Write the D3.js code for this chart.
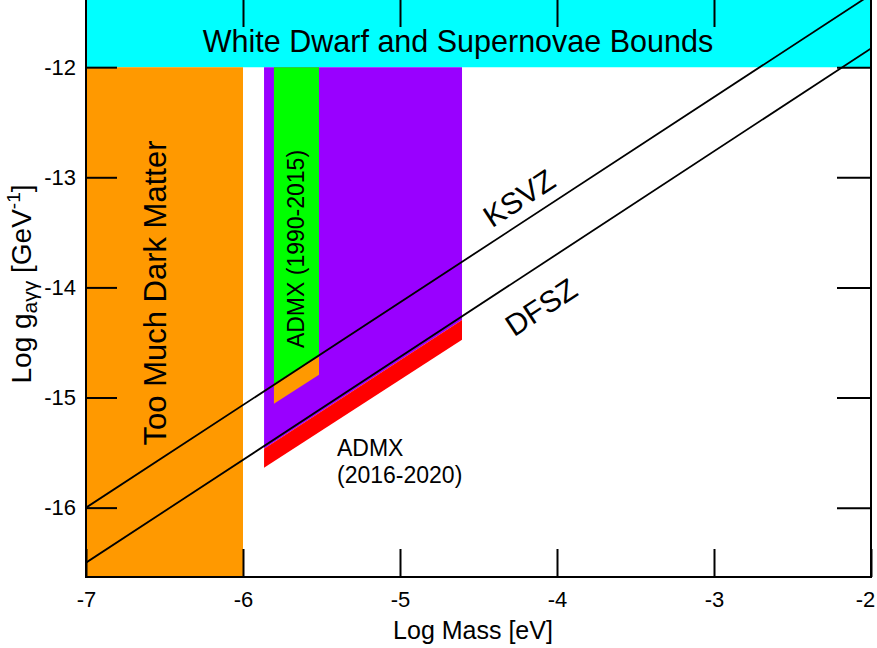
<!DOCTYPE html>
<html>
<head>
<meta charset="utf-8">
<script src="https://cdn.jsdelivr.net/npm/d3@7"></script>
<style>
  body { margin: 0; background: #fff; }
  svg { display: block; }
  text { font-family: "Liberation Sans", Arial, Helvetica, sans-serif; fill: #000; }
</style>
</head>
<body>
<svg id="chart" width="877" height="648"></svg>
<script>
// Axion parameter space: log mass [eV] vs log photon coupling [GeV^-1]
const massTicks = [-7, -6, -5, -4, -3, -2];
const couplingTicks = [-12, -13, -14, -15, -16];
const massDomain = [-7, -2];
const couplingDomain = [-16.63, -11.39];

// benchmark model lines (endpoints in log mass, log coupling)
const ksvzLine = [[-7, -16.0], [-2, -11.34]];
const dfszLine = [[-7, -16.5], [-2, -11.83]];

// excluded / probed regions
const stellarBound = -12;            // white dwarf & supernova limit
const darkMatterMassLimit = -6;      // lighter axions overproduce dark matter
const admxMass = [-5.866, -4.605];   // ADMX 2016-2020 mass range
const admxReach = [-15.465, -14.295];     // purple lower edge at range ends
const admxNewReach = [-15.637, -14.476];  // red lower edge at range ends
const admxOldMass = [-5.803, -5.516];     // ADMX 1990-2015 mass range
const admxOldReach = [-14.875, -14.630];  // green lower edge
const admxOldExtra = [-15.057, -14.794];  // orange lower edge

const W = 877, H = 648;
const plot = { left: 86, right: 871, top: 0, bottom: 577 };

const x = d3.scaleLinear().domain(massDomain).range([plot.left, plot.right]);
const y = d3.scaleLinear().domain(couplingDomain).range([plot.bottom, plot.top]);

const svg = d3.select("#chart");

svg.append("defs").append("clipPath").attr("id", "plotClip")
  .append("rect")
  .attr("x", plot.left).attr("y", plot.top)
  .attr("width", plot.right - plot.left).attr("height", plot.bottom - plot.top);

const area = svg.append("g").attr("clip-path", "url(#plotClip)");
const poly = pts => "M" + pts.map(p => [x(p[0]), y(p[1])].join(",")).join("L") + "Z";

const [mLo, mHi] = massDomain;
const [gLo, gHi] = couplingDomain;

// stellar bounds band
area.append("path").attr("fill", "#00FFFF")
  .attr("d", poly([[mLo, gHi], [mHi, gHi], [mHi, stellarBound], [mLo, stellarBound]]));

// too much dark matter
area.append("path").attr("fill", "#FF9900")
  .attr("d", poly([[mLo, stellarBound], [darkMatterMassLimit, stellarBound], [darkMatterMassLimit, gLo], [mLo, gLo]]));

// ADMX 2016-2020 (purple) with improved reach (red)
area.append("path").attr("fill", "#9900FF")
  .attr("d", poly([[admxMass[0], stellarBound], [admxMass[1], stellarBound],
                   [admxMass[1], admxReach[1]], [admxMass[0], admxReach[0]]]));
area.append("path").attr("fill", "#FF0000")
  .attr("d", poly([[admxMass[0], admxReach[0]], [admxMass[1], admxReach[1]],
                   [admxMass[1], admxNewReach[1]], [admxMass[0], admxNewReach[0]]]));

// ADMX 1990-2015 (green) and its extended reach (orange)
area.append("path").attr("fill", "#00FF00")
  .attr("d", poly([[admxOldMass[0], stellarBound], [admxOldMass[1], stellarBound],
                   [admxOldMass[1], admxOldReach[1]], [admxOldMass[0], admxOldReach[0]]]));
area.append("path").attr("fill", "#FF9900")
  .attr("d", poly([[admxOldMass[0], admxOldReach[0]], [admxOldMass[1], admxOldReach[1]],
                   [admxOldMass[1], admxOldExtra[1]], [admxOldMass[0], admxOldExtra[0]]]));

// model lines
const line = d3.line().x(d => x(d[0])).y(d => y(d[1]));
[ksvzLine, dfszLine].forEach(l => {
  area.append("path").datum(l).attr("d", line)
    .attr("fill", "none").attr("stroke", "#000").attr("stroke-width", 1.8);
});

// axes: inward ticks on all four sides
const fmt = d => String(d);
const styleAxis = g => {
  g.select(".domain").remove();
  g.selectAll(".tick line").attr("stroke", "#000").attr("stroke-width", 2);
  g.selectAll(".tick text").attr("font-size", 22).attr("fill", "#000")
    .attr("font-family", "Liberation Sans, Arial, sans-serif");
};

const xAxisG = svg.append("g").attr("transform", `translate(0,${plot.bottom})`)
  .call(d3.axisBottom(x).tickValues(massTicks).tickFormat(fmt)
        .tickSizeInner(-28).tickSizeOuter(0).tickPadding(14))
  .call(styleAxis);
// keep the last label inside the canvas
xAxisG.selectAll(".tick text").filter(d => d === mHi).attr("dx", -6);

svg.append("g").attr("transform", `translate(0,${plot.top})`)
  .call(d3.axisTop(x).tickValues(massTicks.slice(1, -1)).tickFormat("")
        .tickSizeInner(-27).tickSizeOuter(0))
  .call(styleAxis);

svg.append("g").attr("transform", `translate(${plot.left},0)`)
  .call(d3.axisLeft(y).tickValues(couplingTicks).tickFormat(fmt)
        .tickSizeInner(-31).tickSizeOuter(0).tickPadding(10))
  .call(styleAxis);

svg.append("g").attr("transform", `translate(${plot.right},0)`)
  .call(d3.axisRight(y).tickValues(couplingTicks).tickFormat("")
        .tickSizeInner(-34).tickSizeOuter(0))
  .call(styleAxis);

// frame (left, bottom, right)
svg.append("path")
  .attr("d", `M${plot.left},${plot.top}V${plot.bottom}H${plot.right}V${plot.top}`)
  .attr("fill", "none").attr("stroke", "#000").attr("stroke-width", 2);

// axis titles
svg.append("text").attr("x", 473).attr("y", 639)
  .attr("text-anchor", "middle").attr("font-size", 25).text("Log Mass [eV]");

const yTitle = svg.append("text")
  .attr("transform", "translate(31,284) rotate(-90)")
  .attr("text-anchor", "middle").attr("font-size", 28);
yTitle.append("tspan").text("Log g");
yTitle.append("tspan").attr("font-size", 21).attr("dy", 6).text("aγγ");
yTitle.append("tspan").attr("dy", -6).text(" [GeV");
yTitle.append("tspan").attr("font-size", 19).attr("dy", -11).text("-1");
yTitle.append("tspan").attr("dy", 11).text("]");

// region labels
svg.append("text").attr("x", 458).attr("y", 52)
  .attr("text-anchor", "middle").attr("font-size", 30.5)
  .text("White Dwarf and Supernovae Bounds");

svg.append("text")
  .attr("transform", `translate(155,293) rotate(-90)`)
  .attr("text-anchor", "middle").attr("dominant-baseline", "central")
  .attr("font-size", 31).text("Too Much Dark Matter");

svg.append("text")
  .attr("transform", `translate(${x((admxOldMass[0] + admxOldMass[1]) / 2)},249) rotate(-90)`)
  .attr("text-anchor", "middle").attr("dominant-baseline", "central")
  .attr("font-size", 23).text("ADMX (1990-2015)");

const admxLabel = svg.append("text").attr("x", 337).attr("y", 456).attr("font-size", 23);
admxLabel.append("tspan").attr("x", 337).text("ADMX");
admxLabel.append("tspan").attr("x", 337).attr("dy", 27).text("(2016-2020)");

// model line labels, rotated along the lines
const angle = Math.atan2(y(ksvzLine[1][1]) - y(ksvzLine[0][1]), x(ksvzLine[1][0]) - x(ksvzLine[0][0])) * 180 / Math.PI;
svg.append("text")
  .attr("transform", `translate(519,198) rotate(${angle})`)
  .attr("text-anchor", "middle").attr("dominant-baseline", "central")
  .attr("font-size", 30).text("KSVZ");
svg.append("text")
  .attr("transform", `translate(541,307) rotate(${angle})`)
  .attr("text-anchor", "middle").attr("dominant-baseline", "central")
  .attr("font-size", 30).text("DFSZ");
</script>
</body>
</html>
